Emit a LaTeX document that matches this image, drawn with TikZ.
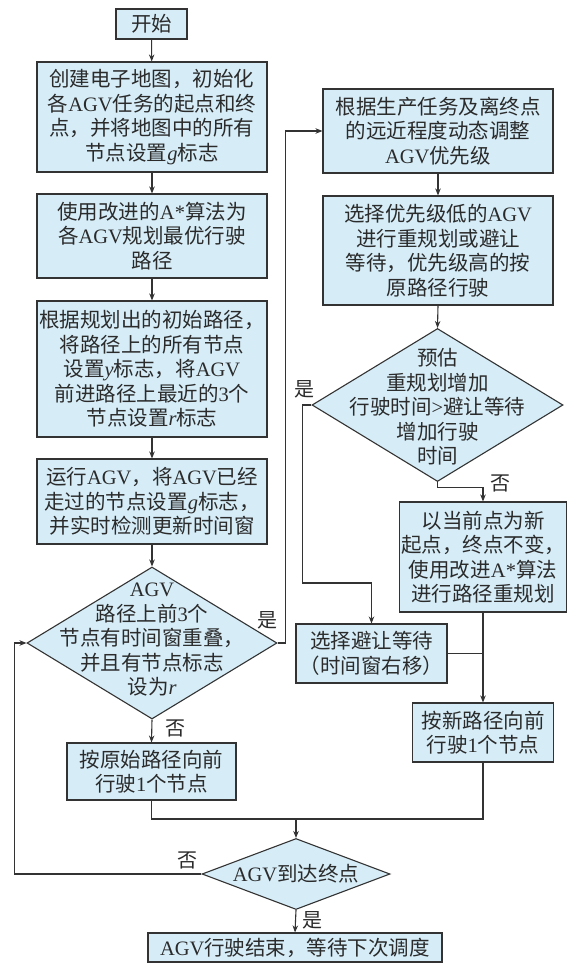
\documentclass[tikz,border=0pt]{standalone}
\usepackage{fontspec}
\setmainfont{Noto Sans CJK SC}
\newfontfamily\latfont{Liberation Serif}
\newcommand\LT[1]{{\latfont #1}}
\usetikzlibrary{arrows.meta,shapes.geometric}
\definecolor{boxfill}{HTML}{D6EDF8}
\definecolor{linec}{HTML}{333333}
\definecolor{txtc}{HTML}{2B2B2B}
\begin{document}
\begin{tikzpicture}[x=1pt,y=-1pt,
  base/.style={draw=linec, line width=1.1pt, fill=boxfill, inner sep=0pt, text=txtc,
    font=\fontsize{20.5}{24.5}\selectfont, align=center},
  box/.style={base, rectangle},
  dia/.style={base, diamond, aspect=1},
  txt/.style={inner sep=0pt, text=txtc, font=\fontsize{20.5}{24.5}\selectfont, align=center},
  conn/.style={draw=linec, line width=1.1pt},
  arr/.style={conn, -{Stealth[length=7pt,width=5.5pt]}},
  lab/.style={inner sep=0pt, text=txtc, font=\fontsize{20}{24}\selectfont}]
\fill[white] (0,0) rectangle (568,964);
\useasboundingbox (0,0) rectangle (568,964);

% left column
\node[box, minimum width=71pt, minimum height=30pt] (s) at (151.5,24) {开始};
\node[box, minimum width=230pt, minimum height=110pt] (b2) at (152,117)
  {创建电子地图，初始化\\各\LT{AGV}任务的起点和终\\点，并将地图中的所有\\节点设置\LT{\itshape g}标志};
\node[box, minimum width=230pt, minimum height=84pt] (b3) at (152,236)
  {使用改进的\LT{A*}算法为\\各\LT{AGV}规划最优行驶\\路径};
\node[box, minimum width=230pt, minimum height=136pt] (b4) at (152,369)
  {根据规划出的初始路径，\\将路径上的所有节点\\设置\LT{\itshape y}标志，将\LT{AGV}\\前进路径上最近的\LT{3}个\\节点设置\LT{\itshape r}标志};
\node[box, minimum width=230pt, minimum height=85pt] (b5) at (152,501.5)
  {运行\LT{AGV}，将\LT{AGV}已经\\走过的节点设置\LT{\itshape g}标志，\\并实时检测更新时间窗};
\node[dia, minimum width=250pt, minimum height=152pt] (d1) at (152,643) {};
\node[txt] (d1t) at (152,640)
  {\LT{AGV}\\路径上前\LT{3}个\\节点有时间窗重叠，\\并且有节点标志\\设为\LT{\itshape r}};
\node[box, minimum width=169pt, minimum height=57pt] (b6) at (151.5,771.5)
  {按原始路径向前\\行驶\LT{1}个节点};
\node[dia, minimum width=188pt, minimum height=71pt] (d2) at (296,874) {};
\node[txt] (d2t) at (296,874) {\LT{AGV}到达终点};
\node[box, minimum width=294pt, minimum height=29pt] (e) at (295,947.5)
  {\LT{AGV}行驶结束，等待下次调度};

% right column
\node[box, minimum width=230pt, minimum height=84pt] (r1) at (438,131)
  {根据生产任务及离终点\\的远近程度动态调整\\\LT{AGV}优先级};
\node[box, minimum width=230pt, minimum height=109pt] (r2) at (438,250.5)
  {选择优先级低的\LT{AGV}\\进行重规划或避让\\等待，优先级高的按\\原路径行驶};
\node[dia, minimum width=251pt, minimum height=153pt] (dr) at (437.5,405) {};
\node[txt] (drt) at (437.5,407)
  {预估\\重规划增加\\行驶时间\LT{>}避让等待\\增加行驶\\时间};
\node[box, minimum width=167pt, minimum height=110pt] (r3) at (483,557)
  {以当前点为新\\起点，终点不变，\\使用改进\LT{A*}算法\\进行路径重规划};
\node[box, minimum width=151pt, minimum height=59pt] (r4) at (371.5,653.5)
  {选择避让等待\\（时间窗右移）};
\node[box, minimum width=141pt, minimum height=59pt] (r5) at (483,732.5)
  {按新路径向前\\行驶\LT{1}个节点};

% connectors
\draw[arr] (s) -- (b2);
\draw[arr] (b2) -- (b3);
\draw[arr] (b3) -- (b4);
\draw[arr] (b4) -- (b5);
\draw[arr] (b5) -- (d1.north);
\draw[arr] (d1.east) -- ++(8,0) |- (r1.west);
\node[lab] (l1) at (267,620) {是};
\draw[arr] (r1) -- (r2);
\draw[arr] (r2.south) -- (dr.north);
\draw[arr] (dr.west) -- ++(-9,0) |- (r4.north |- 0,583) -- (r4.north);
\node[lab] (l2) at (304,389) {是};
\draw[arr] (dr.south) -- ++(0,5) -| (r3.north);
\node[lab] (l3) at (500,483) {否};
\draw[arr] (r3.south) -- (r5.north);
\draw[conn] (r4.east) -- (r4.east -| r3.south);
\draw[arr] (d1.south) -- (b6.north);
\node[lab] (l4) at (175,728) {否};
\draw[conn] (b6.south) -- (b6.south |- 0,819) -- (r5.south |- 0,819) -- (r5.south);
\draw[arr] (d2.north |- 0,819) -- (d2.north);
\draw[arr] (d2.west) -- ++(-187,0) |- (d1.west);
\node[lab] (l5) at (187,860) {否};
\draw[arr] (d2.south) -- (e.north);
\node[lab] (l6) at (312,920) {是};
\end{tikzpicture}
\end{document}
